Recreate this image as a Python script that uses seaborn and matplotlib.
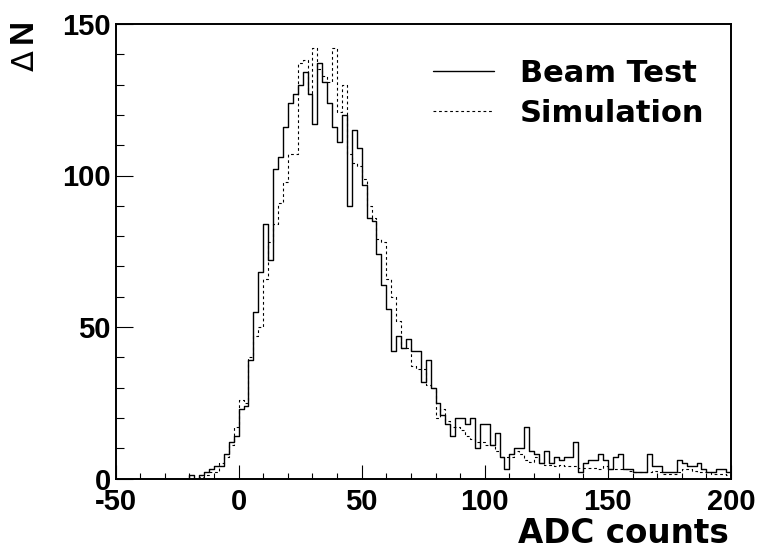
import numpy as np
import pandas as pd
import matplotlib
matplotlib.use("Agg")
import matplotlib.pyplot as plt
import seaborn as sns
from matplotlib.ticker import MultipleLocator

# ====================== data (2-count bins from -50 to 200) ======================

bin_centers = np.arange(-49, 200, 2)

beam_test = [
    0, 0, 0, 0, 0, 0, 0, 0, 0, 0,                  # -50 .. -32
    0, 0, 0, 0, 0, 1, 0, 1, 2, 3,                  # -30 .. -12
    4, 4, 8, 12, 14, 23, 24, 39, 55, 68,           # -10 .. 8
    84, 72, 102, 106, 116, 124, 127, 130, 134, 127,  # 10 .. 28
    117, 137, 131, 124, 116, 111, 120, 90, 115, 109,  # 30 .. 48
    97, 86, 85, 74, 64, 56, 42, 47, 43, 46,        # 50 .. 68
    42, 42, 32, 39, 30, 25, 21, 18, 14, 20,        # 70 .. 88
    20, 18, 20, 10, 18, 18, 11, 15, 7, 3,          # 90 .. 108
    8, 10, 10, 17, 9, 8, 5, 9, 5, 7,               # 110 .. 128
    6, 7, 7, 12, 2, 5, 6, 6, 8, 6,                 # 130 .. 148
    3, 7, 8, 3, 3, 2, 2, 2, 8, 4,                  # 150 .. 168
    4, 2, 2, 2, 6, 5, 4, 4, 5, 3,                  # 170 .. 188
    2, 2, 3, 3, 2,                                 # 190 .. 198
]

simulation = [
    0, 0, 0, 0, 0, 0, 0, 0, 0, 0,
    0, 0, 0, 0, 0, 0, 0, 0.5, 1, 2,
    2, 5, 7, 11, 17, 26, 25, 40, 47, 50,
    66, 78, 84, 91, 98, 107, 107, 137, 138, 127,
    142, 135, 133, 131, 142, 121, 130, 107, 104, 103,
    99, 90, 86, 79, 78, 66, 60, 52, 43, 43,
    37, 36, 36, 31, 30, 20, 23, 19, 17, 17,
    16, 14, 13, 12, 12, 11, 11, 9, 7, 7,
    7, 9, 8, 6, 5.5, 7, 5, 4.5, 4.5, 4,
    4.5, 4, 4, 4, 3.5, 3.5, 3.5, 3.5, 3, 4,
    3, 3, 3, 3, 2.5, 2, 2, 2, 2, 2.5,
    2, 1.5, 1.5, 1.5, 2, 3, 3, 2.5, 2, 2,
    2, 1.5, 1.5, 1.5, 1.2,
]

x_ticks = [-50, 0, 50, 100, 150, 200]
y_ticks = [0, 50, 100, 150]

df = pd.DataFrame({'adc': bin_centers, 'beam': beam_test, 'sim': simulation})

# ====================== style ======================

sns.set_style("white")
plt.rcParams['font.family'] = ['Liberation Sans', 'DejaVu Sans']
plt.rcParams['font.weight'] = 'bold'
plt.rcParams['axes.unicode_minus'] = False
for key in ['text.color', 'axes.labelcolor', 'xtick.color', 'ytick.color', 'axes.edgecolor']:
    plt.rcParams[key] = 'black'

fig = plt.figure(figsize=(7.61, 5.55), dpi=100)
ax = fig.add_axes([115.5 / 761, 1 - 478.5 / 555, 615.5 / 761, 454.5 / 555])

# ====================== histograms ======================

sns.histplot(data=df, x='adc', weights='beam', binwidth=2, binrange=(-50, 200),
             element='step', fill=False, color='black', lw=1.0, ax=ax)
sns.histplot(data=df, x='adc', weights='sim', binwidth=2, binrange=(-50, 200),
             element='step', fill=False, color='black', lw=0.8, ls=(0, (2.5, 2.5)), ax=ax)

ax.set_xlim(-50, 200)
ax.set_ylim(0, 150)
ax.set_xlabel('')
ax.set_ylabel('')
ax.set_xticks(x_ticks)
ax.set_yticks(y_ticks)
ax.xaxis.set_minor_locator(MultipleLocator(10))
ax.yaxis.set_minor_locator(MultipleLocator(10))
ax.tick_params(axis='x', which='major', direction='in', length=9.8, width=0.8,
               labelsize=21, pad=7, bottom=True)
ax.tick_params(axis='x', which='minor', direction='in', length=4.6, width=0.8, bottom=True)
ax.tick_params(axis='y', which='major', direction='in', length=12.2, width=0.8,
               labelsize=21, pad=3.5, left=True)
ax.tick_params(axis='y', which='minor', direction='in', length=6.1, width=0.8, left=True)
for s in ax.spines.values():
    s.set_linewidth(1.4)
    s.set_color('black')

# ====================== labels + legend ======================

fig.text(729 / 761, 1 - 543 / 555, 'ADC counts', ha='right', va='baseline',
         fontsize=23.5, fontweight='bold', family='DejaVu Sans')
fig.text(23 / 761, 1 - 31 / 555, 'N', rotation=90, ha='center', va='center',
         fontsize=24, fontweight='bold')
fig.text(25 / 761, 1 - 61 / 555, 'Δ', rotation=90, ha='center', va='center',
         fontsize=22, fontweight='normal', family='DejaVu Sans')

lines = ax.get_lines()
ax.legend(lines[:2], ['Beam Test', 'Simulation'], loc='upper left',
          bbox_to_anchor=(433 / 761, 1 - 59 / 555), bbox_transform=fig.transFigure,
          frameon=False, borderpad=0, borderaxespad=0, handlelength=2.0,
          handletextpad=0.85, labelspacing=0.36,
          prop={'family': 'DejaVu Sans', 'weight': 'bold', 'size': 22})

fig.savefig('out.png', dpi=100)
